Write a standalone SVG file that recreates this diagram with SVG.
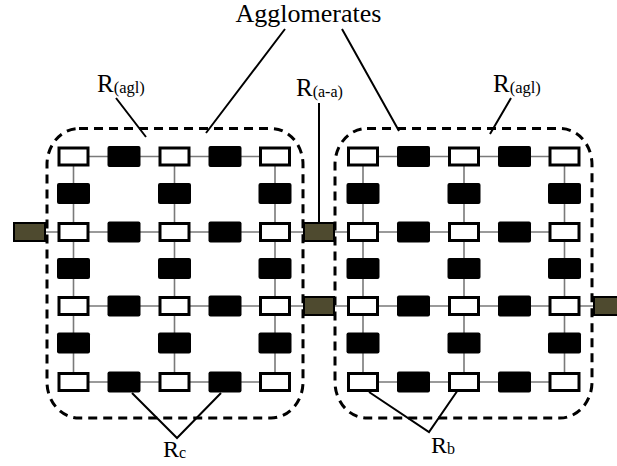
<svg xmlns="http://www.w3.org/2000/svg" width="617" height="466" viewBox="0 0 617 466">
<style>
.bg{fill:#fff}
.w{fill:#fff;stroke:#000;stroke-width:3}
.b{fill:#000}
.br{fill:#4e4a2f;stroke:#000;stroke-width:2}
.ln{stroke:#7a7a7a;stroke-width:1.6;fill:none}
.cl{stroke:#000;stroke-width:2;fill:none}
.ag{fill:none;stroke:#000;stroke-width:3;stroke-dasharray:9 6}
.t{font-family:"Liberation Serif","Times New Roman",serif;fill:#000}
</style>
<rect class="bg" x="0" y="0" width="617" height="466"/>
<g id="agglomerate-left-border"><rect class="ag" x="47" y="128.5" width="256" height="289.5" rx="32" ry="36"/></g>
<g id="agglomerate-right-border"><rect class="ag" x="335" y="128.5" width="257" height="289.5" rx="32" ry="36"/></g>
<g id="connectors">
<path class="ln" d="M73.5 156.5V382M174.5 156.5V382M275 156.5V382M363 156.5V382M464 156.5V382M564.5 156.5V382"/>
<path class="ln" d="M73.5 156.5H275M363 156.5H564.5M29.5 232H564.5M73.5 306H617M73.5 382H275M363 382H564.5"/>
<path class="cl" d="M285 29L206 133M342 29L399 131M116 98L146 137M511 98L490 134M319 103V224M132 393L177 438L221 393M369 392L429 432L460 387"/>
</g>
<g id="left-grid">
<g id="L-w11"><rect class="w" x="59" y="148" width="29" height="17"/></g>
<g id="L-b12"><rect class="b" x="107.5" y="146" width="33" height="21" rx="2"/></g>
<g id="L-w13"><rect class="w" x="160" y="148" width="29" height="17"/></g>
<g id="L-b14"><rect class="b" x="208.5" y="146" width="33" height="21" rx="2"/></g>
<g id="L-w15"><rect class="w" x="260.5" y="148" width="29" height="17"/></g>
<g id="L-b21"><rect class="b" x="57" y="183" width="33" height="21" rx="2"/></g>
<g id="L-b23"><rect class="b" x="158" y="183" width="33" height="21" rx="2"/></g>
<g id="L-b25"><rect class="b" x="258.5" y="183" width="33" height="21" rx="2"/></g>
<g id="L-w31"><rect class="w" x="59" y="223.5" width="29" height="17"/></g>
<g id="L-b32"><rect class="b" x="107.5" y="221.5" width="33" height="21" rx="2"/></g>
<g id="L-w33"><rect class="w" x="160" y="223.5" width="29" height="17"/></g>
<g id="L-b34"><rect class="b" x="208.5" y="221.5" width="33" height="21" rx="2"/></g>
<g id="L-w35"><rect class="w" x="260.5" y="223.5" width="29" height="17"/></g>
<g id="L-b41"><rect class="b" x="57" y="258" width="33" height="21" rx="2"/></g>
<g id="L-b43"><rect class="b" x="158" y="258" width="33" height="21" rx="2"/></g>
<g id="L-b45"><rect class="b" x="258.5" y="258" width="33" height="21" rx="2"/></g>
<g id="L-w51"><rect class="w" x="59" y="297.5" width="29" height="17"/></g>
<g id="L-b52"><rect class="b" x="107.5" y="295.5" width="33" height="21" rx="2"/></g>
<g id="L-w53"><rect class="w" x="160" y="297.5" width="29" height="17"/></g>
<g id="L-b54"><rect class="b" x="208.5" y="295.5" width="33" height="21" rx="2"/></g>
<g id="L-w55"><rect class="w" x="260.5" y="297.5" width="29" height="17"/></g>
<g id="L-b61"><rect class="b" x="57" y="332.5" width="33" height="21" rx="2"/></g>
<g id="L-b63"><rect class="b" x="158" y="332.5" width="33" height="21" rx="2"/></g>
<g id="L-b65"><rect class="b" x="258.5" y="332.5" width="33" height="21" rx="2"/></g>
<g id="L-w71"><rect class="w" x="59" y="373.5" width="29" height="17"/></g>
<g id="L-b72"><rect class="b" x="107.5" y="371.5" width="33" height="21" rx="2"/></g>
<g id="L-w73"><rect class="w" x="160" y="373.5" width="29" height="17"/></g>
<g id="L-b74"><rect class="b" x="208.5" y="371.5" width="33" height="21" rx="2"/></g>
<g id="L-w75"><rect class="w" x="260.5" y="373.5" width="29" height="17"/></g>
</g>
<g id="right-grid">
<g id="R-w11"><rect class="w" x="348.5" y="148" width="29" height="17"/></g>
<g id="R-b12"><rect class="b" x="397" y="146" width="33" height="21" rx="2"/></g>
<g id="R-w13"><rect class="w" x="449.5" y="148" width="29" height="17"/></g>
<g id="R-b14"><rect class="b" x="498" y="146" width="33" height="21" rx="2"/></g>
<g id="R-w15"><rect class="w" x="550" y="148" width="29" height="17"/></g>
<g id="R-b21"><rect class="b" x="346.5" y="183" width="33" height="21" rx="2"/></g>
<g id="R-b23"><rect class="b" x="447.5" y="183" width="33" height="21" rx="2"/></g>
<g id="R-b25"><rect class="b" x="548" y="183" width="33" height="21" rx="2"/></g>
<g id="R-w31"><rect class="w" x="348.5" y="223.5" width="29" height="17"/></g>
<g id="R-b32"><rect class="b" x="397" y="221.5" width="33" height="21" rx="2"/></g>
<g id="R-w33"><rect class="w" x="449.5" y="223.5" width="29" height="17"/></g>
<g id="R-b34"><rect class="b" x="498" y="221.5" width="33" height="21" rx="2"/></g>
<g id="R-w35"><rect class="w" x="550" y="223.5" width="29" height="17"/></g>
<g id="R-b41"><rect class="b" x="346.5" y="258" width="33" height="21" rx="2"/></g>
<g id="R-b43"><rect class="b" x="447.5" y="258" width="33" height="21" rx="2"/></g>
<g id="R-b45"><rect class="b" x="548" y="258" width="33" height="21" rx="2"/></g>
<g id="R-w51"><rect class="w" x="348.5" y="297.5" width="29" height="17"/></g>
<g id="R-b52"><rect class="b" x="397" y="295.5" width="33" height="21" rx="2"/></g>
<g id="R-w53"><rect class="w" x="449.5" y="297.5" width="29" height="17"/></g>
<g id="R-b54"><rect class="b" x="498" y="295.5" width="33" height="21" rx="2"/></g>
<g id="R-w55"><rect class="w" x="550" y="297.5" width="29" height="17"/></g>
<g id="R-b61"><rect class="b" x="346.5" y="332.5" width="33" height="21" rx="2"/></g>
<g id="R-b63"><rect class="b" x="447.5" y="332.5" width="33" height="21" rx="2"/></g>
<g id="R-b65"><rect class="b" x="548" y="332.5" width="33" height="21" rx="2"/></g>
<g id="R-w71"><rect class="w" x="348.5" y="373.5" width="29" height="17"/></g>
<g id="R-b72"><rect class="b" x="397" y="371.5" width="33" height="21" rx="2"/></g>
<g id="R-w73"><rect class="w" x="449.5" y="373.5" width="29" height="17"/></g>
<g id="R-b74"><rect class="b" x="498" y="371.5" width="33" height="21" rx="2"/></g>
<g id="R-w75"><rect class="w" x="550" y="373.5" width="29" height="17"/></g>
</g>
<g id="bridge-left"><rect class="br" x="14" y="223" width="31" height="18"/></g>
<g id="bridge-mid-1"><rect class="br" x="304" y="223" width="30" height="18"/></g>
<g id="bridge-mid-2"><rect class="br" x="304" y="297" width="30" height="18"/></g>
<g id="bridge-right"><rect class="br" x="594" y="297" width="30" height="18"/></g>
<g id="labels">
<text class="t" x="308.5" y="22" font-size="26" text-anchor="middle">Agglomerates</text>
<text class="t" x="97" y="92" font-size="25">R<tspan font-size="16.5" dy="1">(agl)</tspan></text>
<text class="t" x="296" y="96" font-size="25">R<tspan font-size="16" dy="1">(a-a)</tspan></text>
<text class="t" x="493" y="92" font-size="25">R<tspan font-size="16.5" dy="1">(agl)</tspan></text>
<text class="t" x="163" y="457" font-size="24">R<tspan font-size="16" dy="1">c</tspan></text>
<text class="t" x="431" y="453" font-size="24">R<tspan font-size="16" dy="1">b</tspan></text>
</g>
</svg>
